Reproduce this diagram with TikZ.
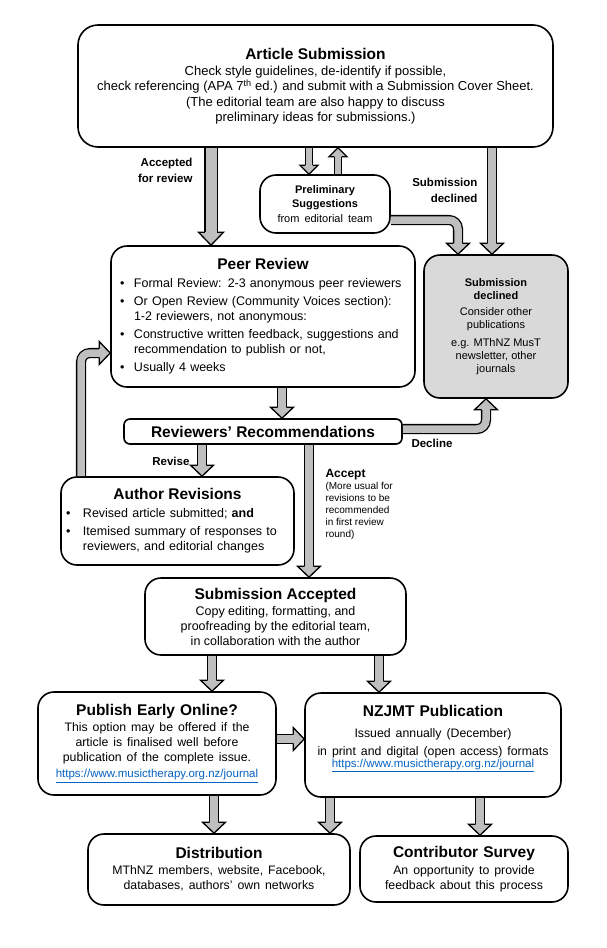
\documentclass[tikz,border=0pt]{standalone}
\usepackage{fontspec}
\setmainfont{Liberation Sans}
\usetikzlibrary{decorations.markings}

\newcommand{\ttl}[1]{{\fontsize{15.5}{18}\selectfont\bfseries #1}}
\newcommand{\bul}[2][14pt]{\par\hangindent=#1\hangafter=1\noindent\makebox[#1][l]{\textbullet}#2}
\newcommand{\wsp}{\spaceskip=5pt plus 1pt\relax}
\newcommand{\lnk}{{\fontsize{11.5}{13}\selectfont\spaceskip=0pt\relax\textcolor{linkblue}{\underline{https://www.musictherapy.org.nz/journal}}}}

\begin{document}
\begin{tikzpicture}[x=1pt,y=-1pt,
  box/.style={draw,line width=1.6pt,rounded corners=16pt,fill=white,align=center,inner sep=0pt,
    font=\fontsize{12.5}{15}\selectfont},
  wide/.style={font=\fontsize{12.3}{15}\selectfont\wsp},
  lbl/.style={font=\fontsize{11.5}{16}\selectfont\bfseries,align=right},
  fat/.style n args={3}{line width=1.3pt,double=shade,double distance=#1,rounded corners=9pt,shorten >=#3,
    postaction={decorate,decoration={markings,mark=at position 1 with {
      \filldraw[fill=shade,line width=1.3pt,sharp corners,shorten >=0pt]
        (-#3,{#1/2+0.65pt}) -- (-#3,#2) -- (0pt,0pt) -- (-#3,-#2) -- (-#3,{-#1/2-0.65pt});}}}},
  arw/.style={fat={7.5pt}{11.5pt}{11pt}},
  bigarw/.style={fat={11pt}{12.5pt}{13pt}},
  smlarw/.style={fat={6pt}{9pt}{9pt}}]

\definecolor{shade}{gray}{0.75}
\definecolor{linkblue}{RGB}{5,99,193}

\useasboundingbox (0,0) rectangle (606,948);

% boxes
\node[box,rounded corners=20pt,minimum width=475pt,minimum height=122pt,font=\fontsize{13}{15.3}\selectfont] (as) at (315.5,86)
  {\ttl{Article Submission}\\[1pt]
   Check style guidelines, de-identify if possible,\\
   check referencing (APA 7\textsuperscript{th} ed.) and submit with a Submission Cover Sheet.\\
   (The editorial team are also happy to discuss\\
   preliminary ideas for submissions.)};

\node[box,minimum width=130pt,minimum height=58pt,font=\fontsize{11}{14.5}\selectfont] (ps) at (325,204)
  {\textbf{Preliminary}\\\textbf{Suggestions}\\{\wsp from editorial team}};

\node[box,text width=286pt,align=left,minimum width=304pt,minimum height=141pt] (pr) at (263,316.5)
  {{\centering\ttl{Peer Review}\par}\parskip=3pt
   \bul{Formal Review: 2-3 anonymous peer reviewers}
   \bul{Or Open Review (Community Voices section):\break 1-2 reviewers, not anonymous:}
   \bul{Constructive written feedback, suggestions and\break recommendation to publish or not,}
   \bul{Usually 4 weeks}\par};

\node[box,fill=gray!30,minimum width=144pt,minimum height=143pt,font=\fontsize{11}{13}\selectfont] (sd) at (496,326.5)
  {\textbf{Submission}\\\textbf{declined}\\[3pt]Consider other\\publications\\[5pt]
   e.g. MThNZ MusT\\newsletter, other\\journals};

\node[box,rounded corners=6pt,minimum width=278pt,minimum height=25pt] (rr) at (263,431.5)
  {\ttl{Reviewers' Recommendations}};

\node[box,text width=223pt,align=left,minimum width=233pt,minimum height=88pt] (ar) at (177.5,521)
  {{\centering\ttl{Author Revisions}\par}\parskip=3pt
   \bul[17pt]{Revised article submitted; \textbf{and}}
   \bul[17pt]{Itemised summary of responses to\break reviewers, and editorial changes}\par};

\node[box,minimum width=261pt,minimum height=77pt] (sa) at (275.5,616.5)
  {\ttl{Submission Accepted}\\[1pt]Copy editing, formatting, and\\proofreading by the editorial team,\\in collaboration with the author};

\node[box,wide,minimum width=238pt,minimum height=103pt] (pe) at (157,743.5)
  {\ttl{Publish Early Online?}\\[1pt]This option may be offered if the\\article is finalised well before\\
   publication of the complete issue.\\[1pt]\lnk};

\node[box,wide,minimum width=256pt,minimum height=104pt] (nz) at (433,745)
  {\ttl{NZJMT Publication}\\[6pt]Issued annually (December)\\[3pt]in print and digital (open access) formats\\[-3pt]\lnk\\[3pt]\mbox{}};

\node[box,wide,minimum width=262pt,minimum height=71pt] (di) at (219,869.5)
  {\ttl{Distribution}\\[1pt]MThNZ members, website, Facebook,\\databases, authors' own networks};

\node[box,wide,minimum width=208pt,minimum height=66pt] (cs) at (464,869)
  {\ttl{Contributor Survey}\\[2pt]An opportunity to provide\\feedback about this process};

% labels
\node[lbl,anchor=east] (l1) at (196,170) {Accepted\\for review};
\node[lbl,anchor=east] (l2) at (481,190) {Submission\\declined};
\node[lbl,anchor=west] (l3) at (408,443) {Decline};
\node[lbl,anchor=east] (l4) at (193,461) {Revise};
\node[anchor=north west,align=left,font=\fontsize{10}{12}\selectfont] (l5) at (322,466)
  {{\fontsize{12}{12}\selectfont\bfseries Accept}\\(More usual for\\revisions to be\\recommended\\in first review\\round)};

% columns and rows for the arrows
\coordinate (k1) at (211,0);
\coordinate (k2) at (309,0);
\coordinate (k3) at (338,0);
\coordinate (k4) at (458,0);
\coordinate (k5) at (492,0);
\coordinate (k6) at (282,0);
\coordinate (k7) at (486,0);
\coordinate (k8) at (202,0);
\coordinate (k9) at (309,0);
\coordinate (k10) at (81,0);
\coordinate (k11) at (212,0);
\coordinate (k12) at (379,0);
\coordinate (k14) at (214,0);
\coordinate (k15) at (330,0);
\coordinate (k16) at (480,0);
\coordinate (r1) at (0,220);
\coordinate (r2) at (0,429);
\coordinate (r3) at (0,353);
\coordinate (r4) at (0,739);

% arrows
\draw[bigarw] (as.south -| k1) -- (pr.north -| k1);
\draw[smlarw] (as.south -| k2) -- (ps.north -| k2);
\draw[smlarw] (ps.north -| k3) -- (as.south -| k3);
\draw[arw] (ps.east |- r1) -| (sd.north -| k4);
\draw[arw] (as.south -| k5) -- (sd.north -| k5);
\draw[arw] (pr.south -| k6) -- (rr.north -| k6);
\draw[arw] (rr.east |- r2) -| (sd.south -| k7);
\draw[arw] (rr.south -| k8) -- (ar.north -| k8);
\draw[arw] (rr.south -| k9) -- (sa.north -| k9);
\draw[arw] (ar.north -| k10) |- (pr.west |- r3);
\draw[arw] (sa.south -| k11) -- (pe.north -| k11);
\draw[arw] (sa.south -| k12) -- (nz.north -| k12);
\draw[arw] (pe.east |- r4) -- (nz.west |- r4);
\draw[arw] (pe.south -| k14) -- (di.north -| k14);
\draw[arw] (nz.south -| k15) -- (di.north -| k15);
\draw[arw] (nz.south -| k16) -- (cs.north -| k16);

\end{tikzpicture}
\end{document}
